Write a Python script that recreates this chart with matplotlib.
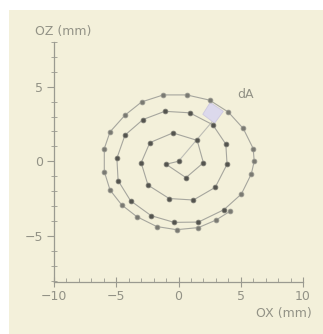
import matplotlib
matplotlib.use("Agg")
import matplotlib.pyplot as plt
from matplotlib.patches import Polygon, Rectangle
from matplotlib.ticker import MultipleLocator

# scan points along the spiral (mm)
ox = [0.0, -1.0, 0.6, 2.0, 1.5, -0.45, -2.3, -3.0, -2.45, -0.75, 1.2, 2.95,
      3.9, 3.8, 2.75, 0.9, -1.1, -2.85, -4.3, -4.95, -4.85, -3.85, -2.2, -0.35,
      1.6, 3.65, 5.05, 5.85, 6.08, 6.0, 5.2, 4.0, 2.5, 0.66, -1.22, -2.96,
      -4.3, -5.5, -5.96, -5.96, -5.5, -4.56, -3.36, -1.75, -0.15, 1.6, 3.0, 4.15]
oz = [0.0, -0.2, -1.1, -0.1, 1.4, 1.9, 1.25, -0.1, -1.6, -2.5, -2.6, -1.75,
      -0.2, 1.15, 2.45, 3.25, 3.35, 2.8, 1.75, 0.2, -1.3, -2.65, -3.65, -4.1,
      -4.08, -3.25, -2.2, -0.85, 0.0, 0.85, 2.2, 3.3, 4.1, 4.45, 4.45, 3.98,
      3.09, 1.97, 0.85, -0.69, -1.93, -2.93, -3.71, -4.38, -4.59, -4.45, -3.95, -3.35]
n_inner = 26  # points of the two inner turns (drawn darker)

# element dA
da_x = [2.55, 3.6, 2.9, 1.95]
da_z = [3.95, 3.35, 2.55, 3.15]
da_label = (5.4, 4.5)

xlim = (-10, 10)
ylim = (-8.1, 8)
xticks = [-10, -5, 0, 5, 10]
yticks = [-5, 0, 5]

bg = "#f3f0da"
txt = "#929286"
axc = "#9a9a90"

fig = plt.figure(figsize=(3.23, 3.34), dpi=100, facecolor="white")
fig.patches.append(Rectangle((9 / 323, 0), 1, (334 - 10) / 334,
                             transform=fig.transFigure, facecolor=bg,
                             edgecolor="none", zorder=-10))
ax = fig.add_axes([54 / 323, 52 / 334, 249 / 323, 240 / 334])
ax.set_facecolor("none")

ax.plot([0, 2.9], [0, 2.85], color="#bdbdb5", lw=0.8, zorder=1)
ax.add_patch(Polygon(list(zip(da_x, da_z)), closed=True, facecolor="#dcd9ec",
                     edgecolor="#cdc9e0", lw=0.6, zorder=2))
ax.plot(ox, oz, color="#a6a69e", lw=0.8, zorder=3)
ax.plot(ox[:n_inner], oz[:n_inner], ls="none", marker="o", ms=3.4,
        mfc="#54544e", mec="#7a7a72", mew=0.6, zorder=4)
ax.plot(ox[n_inner:], oz[n_inner:], ls="none", marker="o", ms=3.4,
        mfc="#7a7a72", mec="#98988f", mew=0.6, zorder=4)
ax.text(*da_label, "dA", color=txt, fontsize=9, ha="center", va="center")

ax.set_xlim(*xlim)
ax.set_ylim(*ylim)
ax.set_xticks(xticks)
ax.set_yticks(yticks)
ax.set_xticklabels([f"\u2212{abs(v)}" if v < 0 else str(v) for v in xticks])
ax.set_yticklabels([f"\u2212{abs(v)}" if v < 0 else str(v) for v in yticks])
ax.xaxis.set_minor_locator(MultipleLocator(1))
ax.yaxis.set_minor_locator(MultipleLocator(1))

for s in ["top", "right"]:
    ax.spines[s].set_visible(False)
for s in ["left", "bottom"]:
    ax.spines[s].set_color(axc)
    ax.spines[s].set_linewidth(0.9)

ax.tick_params(axis="x", which="major", direction="inout", length=7,
               color=axc, labelcolor=txt, labelsize=9, pad=2)
ax.tick_params(axis="x", which="minor", direction="in", length=3, color=axc)
ax.tick_params(axis="y", which="major", direction="out", length=5,
               color=axc, labelcolor=txt, labelsize=9, pad=3)
ax.tick_params(axis="y", which="minor", direction="inout", length=4, color=axc)

fig.text(35 / 323, 1 - 32 / 334, "OZ (mm)", color=txt, fontsize=9,
         ha="left", va="center")
fig.text(312 / 323, 1 - 313 / 334, "OX (mm)", color=txt, fontsize=9,
         ha="right", va="center")

fig.savefig("out.png", dpi=100, facecolor="white")
